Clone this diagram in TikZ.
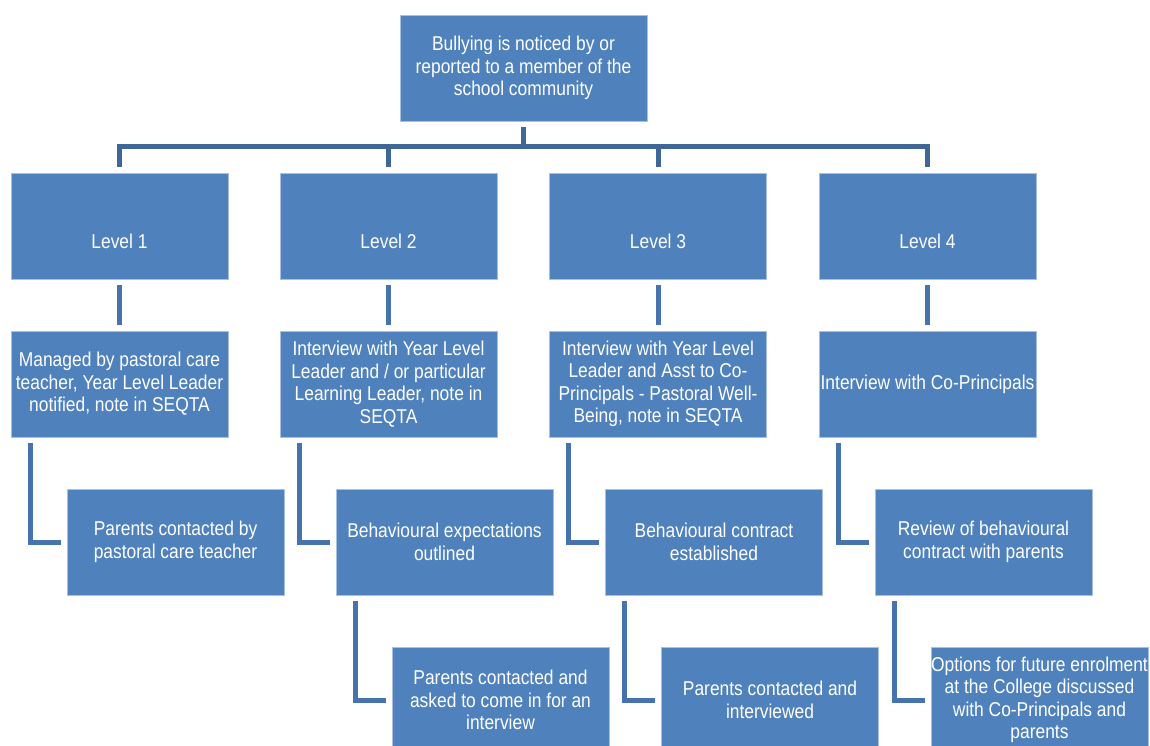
\documentclass[tikz,border=0pt]{standalone}
\usepackage{fontspec}
\setmainfont{Liberation Sans}[FakeStretch=0.87]
\usetikzlibrary{calc}
\definecolor{boxfill}{HTML}{4F81BD}
\definecolor{boxedge}{HTML}{A8C1DF}
\definecolor{linec}{HTML}{4673AB}
\definecolor{busc}{HTML}{3E6696}
\tikzset{
  stepbox/.style={rectangle, fill=boxfill, draw=boxedge, line width=0.8pt,
    minimum width=217pt, minimum height=106pt, inner sep=0pt, align=center,
    text=white, font=\fontsize{20}{22.5}\selectfont},
  conn/.style={draw=linec, line width=5pt, line join=miter},
  busline/.style={draw=busc, line width=5pt, line join=miter},
}
\newcommand{\lvltext}[1]{\raisebox{-22pt}[0pt][0pt]{#1}}
\begin{document}
\begin{tikzpicture}[x=1pt,y=-1pt]
\useasboundingbox (0,0) rectangle (1150,746);
\clip (0,0) rectangle (1150,746);

\node[stepbox, minimum width=247pt] (top) at (523.5,68) {Bullying is noticed by or\\reported to a member of the\\school community};

\node[stepbox] (L1) at (119.5,226) {\lvltext{Level 1}};
\node[stepbox] (L2) at (388.5,226) {\lvltext{Level 2}};
\node[stepbox] (L3) at (658,226) {\lvltext{Level 3}};
\node[stepbox] (L4) at (927.5,226) {\lvltext{Level 4}};

\node[stepbox] (A1) at (119.5,384) {Managed by pastoral care\\teacher, Year Level Leader\\notified, note in SEQTA};
\node[stepbox] (A2) at (388.5,384) {Interview with Year Level\\Leader and / or particular\\Learning Leader, note in\\SEQTA};
\node[stepbox] (A3) at (658,384) {Interview with Year Level\\Leader and Asst to Co-\\Principals - Pastoral Well-\\Being, note in SEQTA};
\node[stepbox] (A4) at (927.5,384) {Interview with Co-Principals};

\node[stepbox] (B1) at (175.5,542) {Parents contacted by\\pastoral care teacher};
\node[stepbox] (B2) at (444.5,542) {Behavioural expectations\\outlined};
\node[stepbox] (B3) at (714,542) {Behavioural contract\\established};
\node[stepbox] (B4) at (983.5,542) {Review of behavioural\\contract with parents};

\node[stepbox] (C2) at (500.5,700) {Parents contacted and\\asked to come in for an\\interview};
\node[stepbox] (C3) at (770,700) {Parents contacted and\\interviewed};
\node[stepbox] (C4) at (1039.5,700) {Options for future enrolment\\at the College discussed\\with Co-Principals and\\parents};

% top bus
\coordinate (busL) at (117,147);
\coordinate (busR) at (930,147);
\draw[busline] ($(top.south)+(0,6)$) -- (top.south |- busL);
\draw[busline] (busL) -- (busR);
\foreach \n in {L1,L2,L3,L4}{
  \draw[busline] (\n.north |- busL) -- ($(\n.north)+(0,-6)$);
}

% level to first step
\foreach \a/\b in {L1/A1,L2/A2,L3/A3,L4/A4}{
  \draw[conn] ($(\a.south)+(0,6)$) -- ($(\b.north)+(0,-6)$);
}

% elbows
\foreach \a/\b in {A1/B1,A2/B2,A3/B3,A4/B4,B2/C2,B3/C3,B4/C4}{
  \draw[conn] ($(\a.south west)+(19.5,6)$) |- ($(\b.west)+(-6,0)$);
}
\end{tikzpicture}
\end{document}
